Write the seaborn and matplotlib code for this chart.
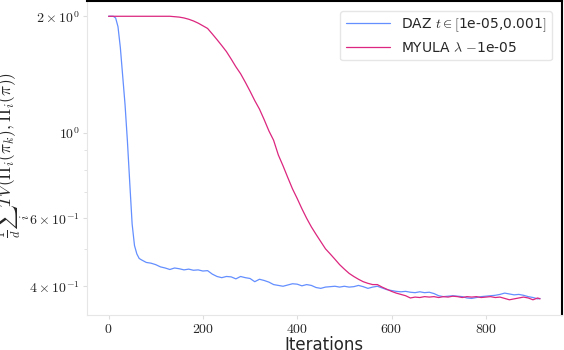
import numpy as np
import pandas as pd
import seaborn as sb
import matplotlib.pyplot as plt

# ------------------ Datos ------------------
iter_daz = [0, 10, 15, 20, 25, 30, 35, 40, 45, 50, 55, 60, 65, 70, 80, 90, 100,
            110, 120, 130, 140, 150, 160, 170, 180, 190, 200, 210, 220, 230, 240,
            250, 260, 270, 280, 290, 300, 310, 320, 330, 340, 350, 360, 370, 380,
            390, 400, 410, 420, 430, 440, 450, 460, 470, 480, 490, 500, 510, 520,
            530, 540, 550, 560, 570, 580, 590, 600, 610, 620, 630, 640, 650, 660,
            670, 680, 690, 700, 710, 720, 730, 740, 750, 760, 770, 780, 790, 800,
            810, 820, 830, 840, 850, 860, 870, 880, 890, 900, 910, 915]
tv_daz = [2.0, 2.0, 1.98, 1.88, 1.66, 1.40, 1.18, 0.95, 0.74, 0.58, 0.51, 0.485,
          0.472, 0.468, 0.461, 0.459, 0.455, 0.449, 0.446, 0.442, 0.446, 0.444,
          0.441, 0.443, 0.440, 0.441, 0.438, 0.439, 0.430, 0.424, 0.421, 0.424,
          0.423, 0.418, 0.424, 0.421, 0.419, 0.411, 0.417, 0.414, 0.410, 0.404,
          0.402, 0.400, 0.403, 0.406, 0.405, 0.401, 0.404, 0.402, 0.397, 0.395,
          0.398, 0.399, 0.400, 0.398, 0.400, 0.398, 0.399, 0.402, 0.399, 0.395,
          0.398, 0.400, 0.396, 0.392, 0.390, 0.388, 0.387, 0.388, 0.386, 0.385,
          0.387, 0.385, 0.386, 0.383, 0.378, 0.376, 0.377, 0.378, 0.377, 0.376,
          0.373, 0.372, 0.374, 0.376, 0.377, 0.378, 0.379, 0.381, 0.384, 0.382,
          0.380, 0.381, 0.379, 0.376, 0.374, 0.371, 0.372]

iter_myula = [0, 60, 120, 130, 140, 150, 160, 170, 180, 190, 200, 210, 220, 230,
              240, 250, 260, 270, 280, 290, 300, 310, 320, 330, 340, 350, 360,
              370, 380, 390, 400, 410, 420, 430, 440, 450, 460, 470, 480, 490,
              500, 510, 520, 530, 540, 550, 560, 570, 580, 590, 600, 610, 620,
              630, 640, 650, 660, 670, 680, 690, 700, 710, 720, 730, 740, 750,
              760, 770, 780, 790, 800, 810, 820, 830, 840, 850, 860, 870, 880,
              890, 900, 910, 915]
tv_myula = [2.0, 2.0, 2.0, 2.0, 1.995, 1.99, 1.98, 1.965, 1.945, 1.92, 1.89,
            1.86, 1.80, 1.74, 1.68, 1.62, 1.55, 1.48, 1.42, 1.35, 1.28, 1.21,
            1.15, 1.08, 1.01, 0.955, 0.875, 0.82, 0.765, 0.715, 0.675, 0.635,
            0.60, 0.57, 0.545, 0.522, 0.50, 0.485, 0.47, 0.455, 0.443, 0.432,
            0.424, 0.417, 0.411, 0.407, 0.404, 0.404, 0.398, 0.393, 0.388,
            0.384, 0.381, 0.378, 0.373, 0.375, 0.374, 0.376, 0.375, 0.376,
            0.374, 0.376, 0.375, 0.377, 0.376, 0.374, 0.376, 0.375, 0.376,
            0.374, 0.375, 0.376, 0.374, 0.375, 0.372, 0.369, 0.371, 0.373,
            0.375, 0.373, 0.369, 0.373, 0.371]

label_daz = r"DAZ $t \in [$1e-05,0.001$]$"
label_myula = r"MYULA $\lambda$ $-$1e-05"

y_ticks = [2, 1, 0.6, 0.4]
y_tick_labels = [r"$2\times10^{0}$", r"$10^{0}$", r"$6\times10^{-1}$", r"$4\times10^{-1}$"]
x_ticks = [0, 200, 400, 600, 800]

df = pd.concat([
    pd.DataFrame({"it": iter_daz, "tv": tv_daz, "metodo": label_daz}),
    pd.DataFrame({"it": iter_myula, "tv": tv_myula, "metodo": label_myula}),
])

# ------------------ Grafica ------------------
sb.set_style("white")
plt.rcParams["mathtext.fontset"] = "cm"

fig = plt.figure(figsize=(5.64, 3.5), dpi=100)
ax = fig.add_axes([0.154, 0.1, 0.842, 0.897])

sb.lineplot(data=df, x="it", y="tv", hue="metodo", ax=ax, linewidth=0.9,
            palette={label_daz: "#648FFF", label_myula: "#DC267F"})

ax.set_yscale("log")
ax.set_ylim(0.337, 2.19)
ax.set_xlim(-46, 961)
ax.set_yticks(y_ticks)
ax.set_yticklabels(y_tick_labels)
ax.yaxis.set_minor_formatter(plt.NullFormatter())
ax.set_xticks(x_ticks)
ax.set_xticklabels([rf"${v}$" for v in x_ticks])
ax.tick_params(axis="both", which="major", labelsize=10, length=3, pad=2,
               color="#dddddd", direction="out", left=True, bottom=True)
ax.tick_params(axis="y", which="minor", length=2, color="#dddddd", left=True)

ax.set_xlabel("Iterations", fontsize=12, labelpad=0)
ax.set_ylabel(r"$\frac{1}{d}\sum_i TV(\Pi_i(\pi_k), \Pi_i(\pi))$", fontsize=12.5)
ax.yaxis.set_label_coords(-0.115, 0.51)

for lado in ["left", "bottom"]:
    ax.spines[lado].set_color("#e6e6e6")
for lado in ["top", "right"]:
    ax.spines[lado].set_color("black")
    ax.spines[lado].set_linewidth(1.5)

leg = ax.legend(loc="upper right", fontsize=10, frameon=True,
                borderaxespad=0.7, handlelength=3.2)
leg.get_frame().set_edgecolor("#e0e0e0")

fig.savefig("out.png", dpi=100)
